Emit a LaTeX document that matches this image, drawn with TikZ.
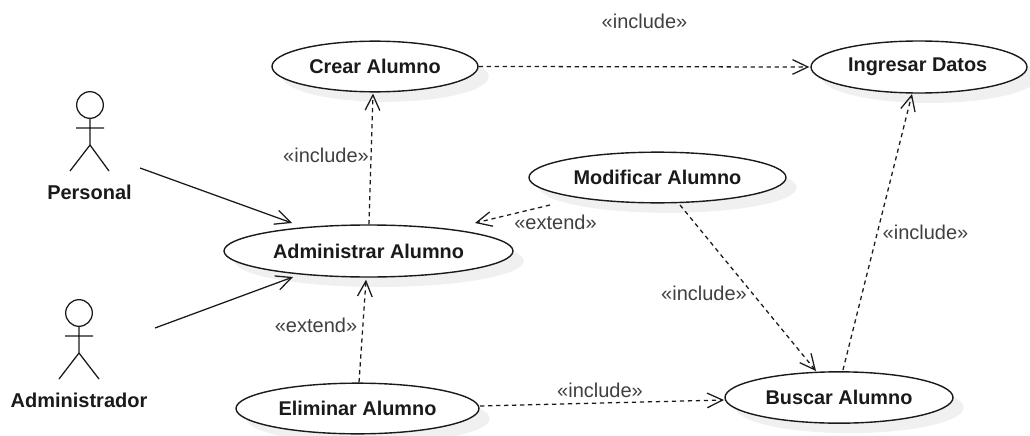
\documentclass[tikz,border=0pt]{standalone}
\usepackage{fontspec}
\setmainfont{Liberation Sans}
\usetikzlibrary{shapes.geometric,arrows.meta,shadows,calc}
\definecolor{ink}{HTML}{1A1A1A}
\definecolor{lbl}{HTML}{404040}
\tikzset{
  usecase/.style={ellipse,draw=ink,fill=white,line width=1.05pt,inner sep=0pt,
    font=\fontsize{14.9pt}{18pt}\selectfont\bfseries,text=ink,
    drop shadow={shadow xshift=8pt,shadow yshift=-7.5pt,fill=black!6,opacity=1}},
  actorname/.style={font=\fontsize{15pt}{18pt}\selectfont\bfseries,text=ink,inner sep=0pt},
  actorline/.style={draw=ink,line width=0.95pt},
  stereo/.style={font=\fontsize{15pt}{18pt}\selectfont,text=lbl,inner sep=0pt},
  assoc/.style={draw=ink,line width=0.95pt,-{Straight Barb[length=11.5pt,width=11pt,line width=0.95pt]}},
  dep/.style={assoc,dash pattern=on 3.2pt off 2.8pt}
}
\begin{document}
\begin{tikzpicture}[x=0.75pt,y=-0.75pt]
\useasboundingbox (0,0) rectangle (1030,435);
% use cases
\node[usecase,minimum width=154.5pt,minimum height=38pt] (crear) at (375,66.5) {Crear Alumno};
\node[usecase,minimum width=162pt,minimum height=39pt] (ingresar) at (919,67) {\hspace*{-2pt}Ingresar Datos};
\node[usecase,minimum width=192.75pt,minimum height=38pt] (modificar) at (657.5,177.5) {Modificar Alumno};
\node[usecase,minimum width=216.75pt,minimum height=39pt] (admin) at (368.5,251) {Administrar Alumno};
\node[usecase,minimum width=182.25pt,minimum height=38pt] (eliminar) at (357.5,408.5) {Eliminar Alumno};
\node[usecase,minimum width=171pt,minimum height=38.5pt] (buscar) at (839,397.5) {Buscar Alumno};
% actors
\node[actorname] (personal) at (89.5,192) {Personal};
\node[actorname] (administrador) at (79,400) {Administrador};
\path[actorline] ($(personal)+(0.5,-87)$) circle[radius=10pt];
\path[actorline] ($(personal)+(0.5,-73.5)$) -- ($(personal)+(0.5,-47)$)
  ($(personal)+(-13.5,-64)$) -- ($(personal)+(14.5,-64)$)
  ($(personal)+(-19.5,-21)$) -- ($(personal)+(0.5,-47)$) -- ($(personal)+(19.5,-21)$);
\path[actorline] ($(administrador)+(0,-87)$) circle[radius=10pt];
\path[actorline] ($(administrador)+(0,-73.5)$) -- ($(administrador)+(0,-47)$)
  ($(administrador)+(-14,-64)$) -- ($(administrador)+(14,-64)$)
  ($(administrador)+(-20,-21)$) -- ($(administrador)+(0,-47)$) -- ($(administrador)+(20,-21)$);
% connectors
\draw[assoc] ($(personal)+(50.5,-24)$) -- ($(admin)+(-76.5,-28)$);
\draw[assoc] ($(administrador)+(76,-72)$) -- ($(admin)+(-75.5,26)$);
\draw[dep] (crear.east) -- ($(ingresar.west)+(-1,0)$);
\draw[dep] ($(admin.north)+(0.5,0)$) -- ($(crear.south)+(-2,1)$);
\draw[dep] ($(modificar)+(-107.5,27.5)$) -- ($(admin)+(106.5,-28)$);
\draw[dep] ($(modificar)+(22.5,27.5)$) -- ($(buscar)+(-23,-26.5)$);
\draw[dep] ($(eliminar.north)+(1.5,0)$) -- ($(admin.south)+(-2.5,2)$);
\draw[dep] ($(eliminar)+(122.5,-2.5)$) -- ($(buscar)+(-115,2.5)$);
\draw[dep] ($(buscar)+(4,-27.5)$) -- ($(ingresar)+(-7,27)$);
% labels
\node[stereo] (l1) at (644.5,21) {«include»};
\node[stereo] (l2) at (326,155.5) {«include»};
\node[stereo] (l3) at (704,293.5) {«include»};
\node[stereo] (l4) at (600,390.5) {«include»};
\node[stereo] (l5) at (925.5,232.5) {«include»};
\node[stereo] (l6) at (555.5,222) {«extend»};
\node[stereo] (l7) at (316,325) {«extend»};
\end{tikzpicture}
\end{document}
